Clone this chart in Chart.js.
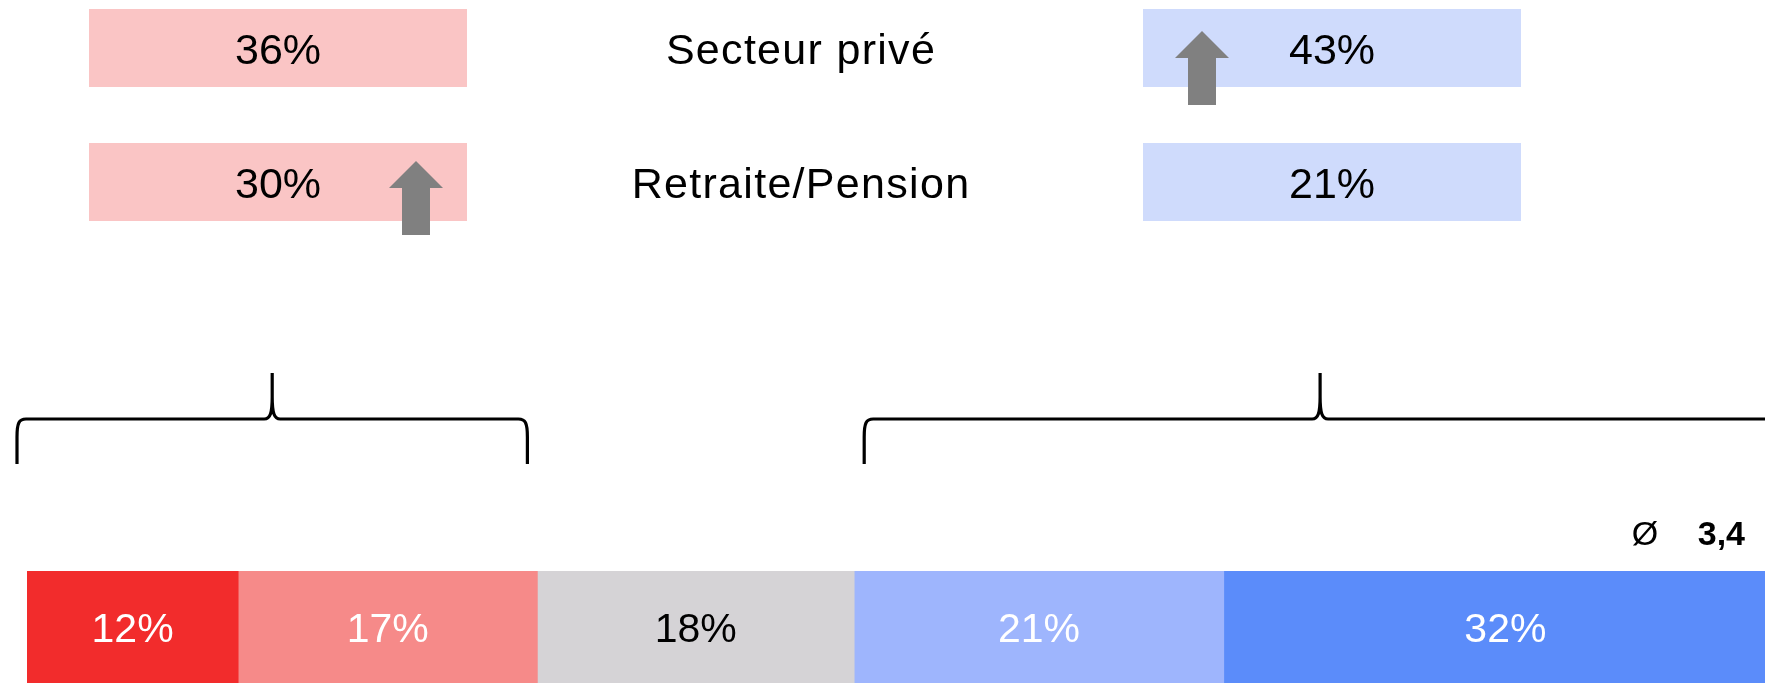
<!DOCTYPE html>
<html>
<head>
<meta charset="utf-8">
<script src="https://cdn.jsdelivr.net/npm/chart.js@4.4.1/dist/chart.umd.min.js"></script>
<style>
  html, body { margin: 0; padding: 0; background: #fff; }
  canvas { display: block; }
</style>
</head>
<body>
<canvas id="chart" width="1765" height="683"></canvas>
<script>
// données
const categories = ['Répartition'];
const segmentValues = [12, 17, 18, 21, 32];
const segmentLabels = ['12%', '17%', '18%', '21%', '32%'];
const rowLabels = ['Secteur privé', 'Retraite/Pension'];
const leftShares = ['36%', '30%'];
const rightShares = ['43%', '21%'];
const leftArrows = [false, true];
const rightArrows = [true, false];
const bracketGroups = [[0, 1], [3, 4]];
const averageSymbol = 'Ø';
const averageValue = '3,4';

// styles
const segmentColors = ['#f22c2c', '#f68a89', '#d5d3d6', '#9eb5fd', '#5b8cfa'];
const segmentTextColors = ['#ffffff', '#ffffff', '#000000', '#ffffff', '#ffffff'];
const FONT = '"Liberation Sans", Arial, sans-serif';

const drawArrow = (ctx, cx, top) => {
    ctx.fillStyle = '#808080';
    ctx.beginPath();
    ctx.moveTo(cx, top);
    ctx.lineTo(cx + 27, top + 27);
    ctx.lineTo(cx + 14, top + 27);
    ctx.lineTo(cx + 14, top + 74);
    ctx.lineTo(cx - 14, top + 74);
    ctx.lineTo(cx - 14, top + 27);
    ctx.lineTo(cx - 27, top + 27);
    ctx.closePath();
    ctx.fill();
};

const drawBracket = (ctx, x0, x1) => {
    const xc = (x0 + x1) / 2;
    const yb = 464, yl = 419, yt = 373;
    ctx.strokeStyle = '#000';
    ctx.lineWidth = 3.2;
    ctx.beginPath();
    ctx.moveTo(x0, yb);
    ctx.lineTo(x0, yl + 18);
    ctx.bezierCurveTo(x0, yl + 4, x0 + 2, yl, x0 + 9, yl);
    ctx.lineTo(xc - 8, yl);
    ctx.bezierCurveTo(xc - 2, yl, xc, yl - 6, xc, yl - 22);
    ctx.lineTo(xc, yt);
    ctx.moveTo(xc, yl - 22);
    ctx.bezierCurveTo(xc, yl - 6, xc + 2, yl, xc + 8, yl);
    ctx.lineTo(x1 - 9, yl);
    ctx.bezierCurveTo(x1 - 2, yl, x1, yl + 4, x1, yl + 18);
    ctx.lineTo(x1, yb);
    ctx.stroke();
};

// libellés dans les segments
const barLabelsPlugin = {
    id: 'barLabels',
    afterDatasetsDraw(chart) {
        const ctx = chart.ctx;
        ctx.save();
        ctx.font = '41px ' + FONT;
        ctx.textAlign = 'center';
        ctx.textBaseline = 'alphabetic';
        chart.data.datasets.forEach((ds, i) => {
            const bar = chart.getDatasetMeta(i).data[0];
            const { x, base, y } = bar.getProps(['x', 'base', 'y'], true);
            ctx.fillStyle = segmentTextColors[i];
            ctx.fillText(segmentLabels[i], (x + base) / 2, y + 15);
        });
        ctx.restore();
    }
};

// tableau du haut, accolades et moyenne
const annotationsPlugin = {
    id: 'annotations',
    afterDraw(chart) {
        const ctx = chart.ctx;
        const xs = chart.scales.x;
        ctx.save();

        const rowTops = [9, 143];
        const arrowTops = [31, 161];
        const boxH = 78, boxW = 378;
        const leftX = 89, rightX = 1143, labelX = 801;

        rowLabels.forEach((label, r) => {
            const top = rowTops[r];
            const mid = top + boxH / 2;

            ctx.fillStyle = '#fac5c5';
            ctx.fillRect(leftX, top, boxW, boxH);
            ctx.fillStyle = '#cfdbfc';
            ctx.fillRect(rightX, top, boxW, boxH);

            ctx.fillStyle = '#000';
            ctx.textAlign = 'center';
            ctx.textBaseline = 'alphabetic';
            ctx.font = '43px ' + FONT;
            ctx.fillText(leftShares[r], leftX + boxW / 2, mid + 15.5);
            ctx.fillText(rightShares[r], rightX + boxW / 2, mid + 15.5);

            ctx.letterSpacing = '1.3px';
            ctx.fillText(label, labelX, mid + 15.5);
            ctx.letterSpacing = '0px';

            if (leftArrows[r]) {
                drawArrow(ctx, leftX + boxW - 51, arrowTops[r]);
            }
            if (rightArrows[r]) {
                drawArrow(ctx, rightX + 59, arrowTops[r]);
            }
        });

        // accolades au-dessus des groupes de segments
        const cumulative = [0];
        segmentValues.forEach(v => cumulative.push(cumulative[cumulative.length - 1] + v));
        const offsets = [[-10, -10], [10, -11]];
        bracketGroups.forEach((g, k) => {
            const x0 = xs.getPixelForValue(cumulative[g[0]]) + offsets[k][0];
            const x1 = xs.getPixelForValue(cumulative[g[1] + 1]) + offsets[k][1];
            drawBracket(ctx, x0, x1);
        });

        // moyenne
        ctx.fillStyle = '#000';
        ctx.textBaseline = 'alphabetic';
        ctx.textAlign = 'center';
        ctx.font = '34px ' + FONT;
        ctx.fillText(averageSymbol, 1645, 545);
        ctx.textAlign = 'right';
        ctx.font = 'bold 34px ' + FONT;
        ctx.fillText(averageValue, 1745, 545);

        ctx.restore();
    }
};

const ctx = document.getElementById('chart').getContext('2d');
new Chart(ctx, {
    type: 'bar',
    data: {
        labels: categories,
        datasets: segmentValues.map((v, i) => ({
            label: segmentLabels[i],
            data: [v],
            backgroundColor: segmentColors[i],
            borderWidth: 0,
            barPercentage: 1,
            categoryPercentage: 1
        }))
    },
    options: {
        indexAxis: 'y',
        responsive: false,
        animation: false,
        layout: {
            padding: { left: 27, top: 571, right: 0, bottom: 0 }
        },
        scales: {
            x: { stacked: true, display: false, min: 0, max: 98.75 },
            y: { stacked: true, display: false }
        },
        plugins: {
            legend: { display: false },
            tooltip: { enabled: false }
        }
    },
    plugins: [barLabelsPlugin, annotationsPlugin]
});
</script>
</body>
</html>
